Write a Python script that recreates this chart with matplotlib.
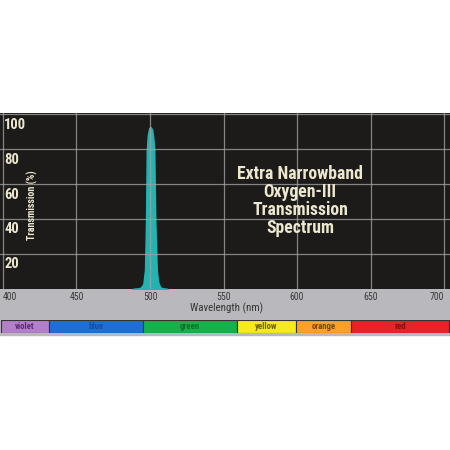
import matplotlib
matplotlib.use("Agg")
import matplotlib.pyplot as plt
import matplotlib.transforms as mtrans
from matplotlib import font_manager

# filter curve
wavelength = [488, 492, 494, 495.5, 496.6, 497.3, 497.8, 498.5, 499.5, 500.5,
              501.5, 502.3, 502.9, 503.6, 504.6, 505.5, 507, 509, 512]
transmission = [0, 0.3, 1, 3, 11, 39, 79, 88, 92, 92.5,
                91, 86, 79, 39, 11, 4, 1, 0.3, 0]

x_ticks = [400, 450, 500, 550, 600, 650, 700]
y_ticks = [20, 40, 60, 80, 100]

band_names = ["violet", "blue", "green", "yellow", "orange", "red"]
band_start = [399, 431, 495, 559, 599, 637]
band_end = [431, 495, 559, 599, 637, 703]
band_colors = ["#b47fc9", "#1e6fd0", "#18b04a", "#f6ea1f", "#f7a12b", "#e8212b"]
band_text = ["#5a2a6e", "#174f99", "#0d6e2c", "#6b6000", "#7a4500", "#8a0c12"]

# pick a narrow face if one is installed
installed = {f.name for f in font_manager.fontManager.ttflist}
narrow = [n for n in ["Liberation Sans Narrow", "DejaVu Sans Condensed", "Roboto Condensed"]
          if n in installed]
cond = narrow[:1] + ["Liberation Sans", "DejaVu Sans"]
stretch = "condensed"
cream = "#ece7cf"

fig = plt.figure(figsize=(4.5, 4.5), dpi=100)
fig.patch.set_facecolor("white")

# gray strip under the chart
fig.patches.append(plt.Rectangle((0, (450 - 335) / 450), 1, 46 / 450,
                                 transform=fig.transFigure, color="#b9b9bd", zorder=-5))

ax = fig.add_axes([0, (450 - 289) / 450, 1, 176 / 450])
ax.set_facecolor("#1d1a1a")
ax.fill_between(wavelength, transmission, color="#22b4b2", zorder=1)
ax.set_xlim(398, 704)
ax.set_ylim(0, 100.6)
ax.set_xticks(x_ticks)
ax.set_yticks(y_ticks)
ax.grid(True, color="#a0a0a0", linewidth=0.9, alpha=0.8, zorder=2)
ax.set_axisbelow(False)
for s in ax.spines.values():
    s.set_visible(False)

ax.tick_params(axis="x", length=0, pad=2, labelsize=7, labelcolor="#3a3a3a")
ax.tick_params(axis="y", length=0, pad=-3, labelsize=10.5, labelcolor=cream)
xl = ax.get_xticklabels()
for lbl in xl:
    lbl.set_family(cond)
    lbl.set_stretch(stretch)
xl[0].set_ha("left")
xl[-1].set_ha("right")
off = mtrans.ScaledTranslation(0, -2.5 / 72, fig.dpi_scale_trans)
for lbl in ax.get_yticklabels():
    lbl.set_ha("left")
    lbl.set_va("top")
    lbl.set_family(cond)
    lbl.set_stretch(stretch)
    lbl.set_fontweight("bold")
    lbl.set_transform(lbl.get_transform() + off)

ax.text(32 / 450, 48, "Transmission (%)", rotation=90, ha="center", va="center",
        fontsize=7.2, color=cream, family=cond, stretch=stretch, fontweight="bold",
        transform=mtrans.blended_transform_factory(ax.transAxes, ax.transData))

ax.text(0.667, 0.5, "Extra Narrowband\nOxygen-III\nTransmission\nSpectrum",
        transform=ax.transAxes, ha="center", va="center", fontsize=12.7,
        color=cream, family=cond, stretch=stretch, fontweight="bold", linespacing=1.0)

fig.text(227 / 450, (450 - 308) / 450, "Wavelength (nm)", ha="center", va="center",
         fontsize=7.8, color="#333333", family=cond, stretch=stretch)

# colour band
bx = fig.add_axes([0, (450 - 333) / 450, 1, 13 / 450])
bx.set_xlim(398, 704)
bx.set_ylim(0, 1)
bx.axis("off")
widths = [e - s for s, e in zip(band_start, band_end)]
bx.barh(0.5, widths, left=band_start, height=1, color=band_colors,
        edgecolor="#333333", linewidth=0.8)
for s, e, name, tc in zip(band_start, band_end, band_names, band_text):
    bx.text((s + e) / 2, 0.5, name, ha="center", va="center", fontsize=6.3,
            color=tc, family=cond, stretch=stretch, fontweight="bold")

fig.savefig("out.png", dpi=100, facecolor="white")
